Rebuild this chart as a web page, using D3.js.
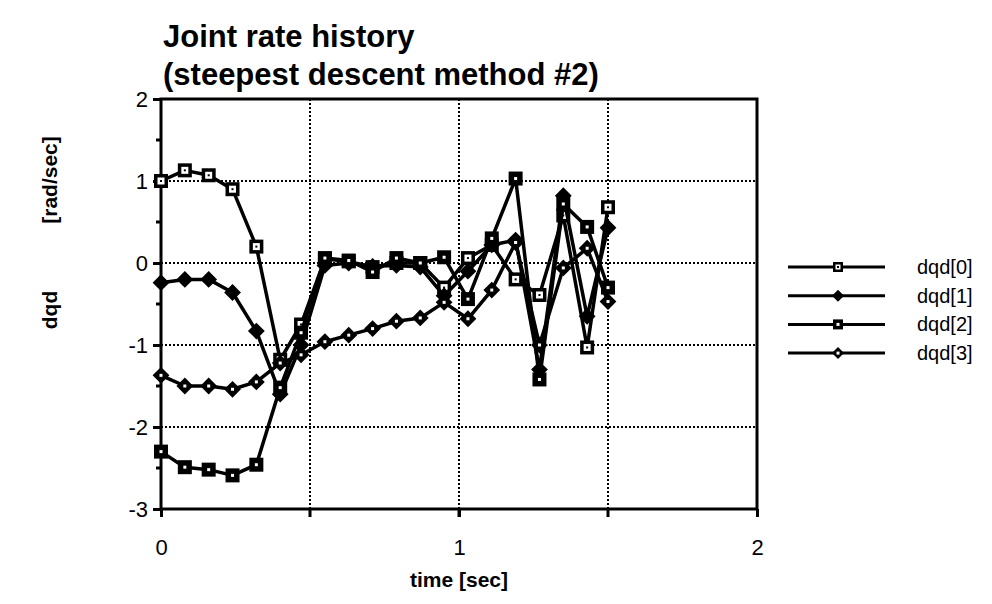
<!DOCTYPE html>
<html>
<head>
<meta charset="utf-8">
<script src="https://cdn.jsdelivr.net/npm/d3@7"></script>
<style>
  body { margin: 0; background: #fff; }
  text { font-family: "Liberation Sans", Arial, Helvetica, sans-serif; fill: #000; }
</style>
</head>
<body>
<div id="chart"></div>
<script>
// time points (sec)
const time = [0, 0.08, 0.16, 0.24, 0.32, 0.40, 0.47, 0.55, 0.63, 0.71,
              0.79, 0.87, 0.95, 1.03, 1.11, 1.19, 1.27, 1.35, 1.43, 1.50];
// joint rates (rad/sec)
const dqd0 = [1.0, 1.13, 1.07, 0.9, 0.2, -1.18, -0.75, 0.05, 0.02, -0.05,
              0.0, 0.0, -0.3, 0.06, 0.22, -0.2, -0.39, 0.58, -1.03, 0.68];
const dqd1 = [-0.24, -0.2, -0.2, -0.36, -0.83, -1.6, -1.0, -0.03, 0.0, -0.04,
              -0.03, -0.05, -0.4, -0.1, 0.22, 0.28, -1.3, 0.82, -0.65, 0.43];
const dqd2 = [-2.3, -2.49, -2.52, -2.59, -2.46, -1.52, -0.85, 0.06, 0.03, -0.11,
              0.06, 0.0, 0.07, -0.44, 0.3, 1.03, -1.42, 0.72, 0.44, -0.3];
const dqd3 = [-1.37, -1.5, -1.5, -1.54, -1.45, -1.22, -1.12, -0.96, -0.88, -0.8,
              -0.71, -0.67, -0.48, -0.68, -0.33, 0.25, -1.0, -0.06, 0.18, -0.47];

const seriesNames = ["dqd[0]", "dqd[1]", "dqd[2]", "dqd[3]"];
const seriesValues = [dqd0, dqd1, dqd2, dqd3];
const markerTypes = ["hollowSquare", "diamond", "square", "hollowDiamond"];

const xTicks = [0, 1, 2];
const xGrid = [0.5, 1, 1.5];
const yTicks = [2, 1, 0, -1, -2, -3];
const yGrid = [1, 0, -1, -2];
const yMinor = [1.5, 0.5, -0.5, -1.5, -2.5];

const width = 992, height = 604;
const pLeft = 161, pRight = 757, pTop = 99, pBottom = 509;

const svg = d3.select("#chart").append("svg")
  .attr("width", width)
  .attr("height", height);

const x = d3.scaleLinear().domain([0, 2]).range([pLeft, pRight]);
const y = d3.scaleLinear().domain([-3, 2]).range([pBottom, pTop]);

// grid
svg.append("g").selectAll("line")
  .data(yGrid).enter().append("line")
  .attr("x1", pLeft).attr("x2", pRight)
  .attr("y1", d => y(d)).attr("y2", d => y(d))
  .attr("stroke", "#000").attr("stroke-width", 2)
  .attr("stroke-dasharray", "2,2");

svg.append("g").selectAll("line")
  .data(xGrid).enter().append("line")
  .attr("x1", d => x(d)).attr("x2", d => x(d))
  .attr("y1", pTop).attr("y2", pBottom)
  .attr("stroke", "#000").attr("stroke-width", 2)
  .attr("stroke-dasharray", "2,2");

// axes
const yAxis = d3.axisLeft(y).tickValues(yTicks).tickSize(8).tickPadding(5)
  .tickFormat(d => String(d));
const yg = svg.append("g").attr("transform", "translate(" + pLeft + ",0)").call(yAxis);
yg.select(".domain").remove();
yg.selectAll(".tick line").attr("stroke-width", 3);
yg.selectAll(".tick text").style("font-size", "22px").attr("dy", "0.35em")
  .style("font-family", "Liberation Sans, Arial, sans-serif");

svg.append("g").selectAll("line")
  .data(yMinor).enter().append("line")
  .attr("x1", pLeft - 5).attr("x2", pLeft)
  .attr("y1", d => y(d)).attr("y2", d => y(d))
  .attr("stroke", "#000").attr("stroke-width", 3);

const xAxis = d3.axisBottom(x).tickValues(xTicks).tickSize(8).tickPadding(22)
  .tickFormat(d => String(d));
const xg = svg.append("g").attr("transform", "translate(0," + pBottom + ")").call(xAxis);
xg.select(".domain").remove();
xg.selectAll(".tick line").attr("stroke-width", 3);
xg.selectAll(".tick text").style("font-size", "22px")
  .style("font-family", "Liberation Sans, Arial, sans-serif");

svg.append("g").selectAll("line")
  .data(xGrid).enter().append("line")
  .attr("x1", d => x(d)).attr("x2", d => x(d))
  .attr("y1", pBottom).attr("y2", pBottom + 8)
  .attr("stroke", "#000").attr("stroke-width", 3);

// frame
svg.append("rect")
  .attr("x", pLeft).attr("y", pTop)
  .attr("width", pRight - pLeft).attr("height", pBottom - pTop)
  .attr("fill", "none").attr("stroke", "#000").attr("stroke-width", 3);

// markers
function drawMarker(g, type, cx, cy, s) {
  if (type === "hollowSquare") {
    g.append("rect").attr("x", cx - s).attr("y", cy - s).attr("width", 2 * s).attr("height", 2 * s).attr("fill", "#000");
    g.append("rect").attr("x", cx - s * 0.5).attr("y", cy - s * 0.5).attr("width", s).attr("height", s).attr("fill", "#fff");
    g.append("rect").attr("x", cx - 1).attr("y", cy - 1).attr("width", 2).attr("height", 2).attr("fill", "#000");
  } else if (type === "square") {
    g.append("rect").attr("x", cx - s).attr("y", cy - s).attr("width", 2 * s).attr("height", 2 * s).attr("fill", "#000");
    g.append("rect").attr("x", cx - 1.5).attr("y", cy - 1.5).attr("width", 3).attr("height", 3).attr("fill", "#fff");
  } else {
    const r = s * 1.2;
    g.append("path")
      .attr("d", "M" + cx + "," + (cy - r) + "L" + (cx + r) + "," + cy + "L" + cx + "," + (cy + r) + "L" + (cx - r) + "," + cy + "Z")
      .attr("fill", "#000");
    if (type === "hollowDiamond") {
      g.append("rect").attr("x", cx - 1.5).attr("y", cy - 1.5).attr("width", 3).attr("height", 3).attr("fill", "#fff");
    }
  }
}

const line = d3.line()
  .x(d => x(d[0]))
  .y(d => y(d[1]));

seriesValues.forEach(function(vals, i) {
  const pts = time.map((t, j) => [t, vals[j]]);
  const g = svg.append("g").attr("class", "series");
  g.append("path")
    .attr("d", line(pts))
    .attr("fill", "none")
    .attr("stroke", "#000")
    .attr("stroke-width", 3.5)
    .attr("stroke-linejoin", "round");
  pts.forEach(function(p) {
    drawMarker(g, markerTypes[i], x(p[0]), y(p[1]), 7);
  });
});

// legend
const legend = svg.append("g");
seriesNames.forEach(function(name, i) {
  const ly = 267 + i * 28.7;
  legend.append("line")
    .attr("x1", 788).attr("x2", 885)
    .attr("y1", ly).attr("y2", ly)
    .attr("stroke", "#000").attr("stroke-width", 3);
  drawMarker(legend, markerTypes[i], 838, ly, 5);
  legend.append("text")
    .attr("x", 917).attr("y", ly)
    .attr("dy", "0.35em")
    .style("font-size", "20px")
    .text(name);
});

// titles
svg.append("text")
  .attr("x", 163).attr("y", 47)
  .style("font-size", "31px").style("font-weight", "bold")
  .text("Joint rate history");
svg.append("text")
  .attr("x", 163).attr("y", 85)
  .style("font-size", "31px").style("font-weight", "bold")
  .text("(steepest descent method #2)");

svg.append("text")
  .attr("x", (pLeft + pRight) / 2).attr("y", 587)
  .attr("text-anchor", "middle")
  .style("font-size", "21px").style("font-weight", "bold")
  .text("time [sec]");

svg.append("text")
  .attr("transform", "translate(57,310) rotate(-90)")
  .attr("text-anchor", "middle")
  .style("font-size", "21px").style("font-weight", "bold")
  .text("dqd");
svg.append("text")
  .attr("transform", "translate(57,180) rotate(-90)")
  .attr("text-anchor", "middle")
  .style("font-size", "21px").style("font-weight", "bold")
  .text("[rad/sec]");
</script>
</body>
</html>
